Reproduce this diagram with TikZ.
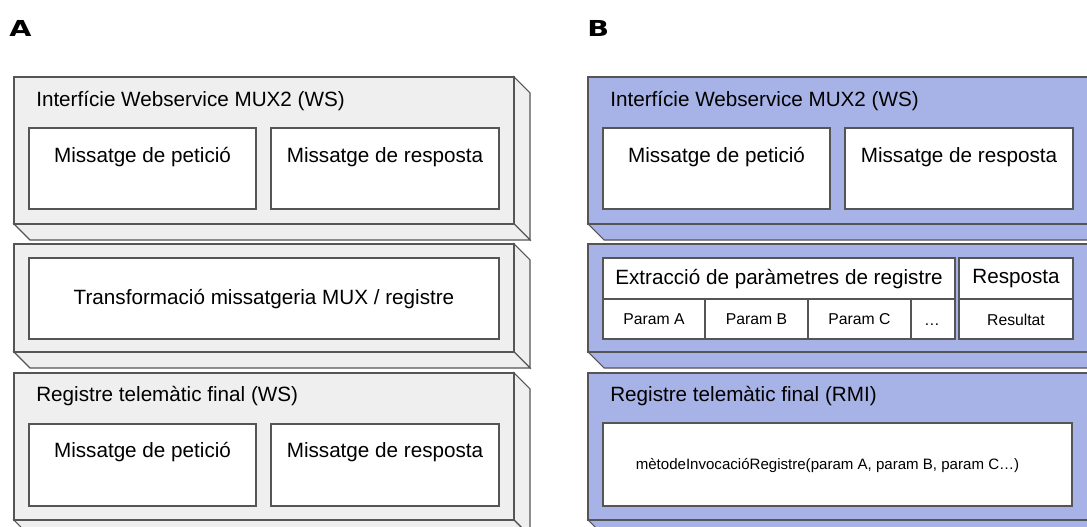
\documentclass[tikz,border=0pt]{standalone}
\usepackage{fontspec}
\setmainfont{Liberation Sans}
\newfontfamily\heavyfont{DejaVu Sans}
\usetikzlibrary{fit}
\definecolor{grayfill}{HTML}{EFEFEF}
\definecolor{bluefill}{HTML}{A7B3E6}
\definecolor{edge}{HTML}{555555}
\tikzset{
  face/.style={draw=edge, line width=0.8pt},
  ibox/.style={draw=edge, line width=0.8pt, fill=white, inner sep=0pt},
  big/.style={font=\fontsize{15.5}{18}\selectfont, inner sep=0pt},
  small/.style={font=\fontsize{11.8}{14}\selectfont, inner sep=0pt},
  tiny/.style={font=\fontsize{11.3}{14}\selectfont, inner sep=0pt},
  panel/.style={font=\heavyfont\fontsize{16.5}{18}\bfseries\selectfont, inner sep=0pt},
}
% cube: x, y, w, h, fill, name
\newcommand{\cubeshape}[6]{%
  \fill[#5] (#1,#2) rectangle ({#1+#3},{#2+#4});
  \draw[face, fill=#5] ({#1+#3},#2) -- ({#1+#3+16},{#2+16}) -- ({#1+#3+16},{#2+#4+16}) -- ({#1+#3},{#2+#4}) -- cycle;
  \draw[face, fill=#5] (#1,{#2+#4}) -- ({#1+16},{#2+#4+16}) -- ({#1+#3+16},{#2+#4+16}) -- ({#1+#3},{#2+#4}) -- cycle;
  \node[face, fill=#5, inner sep=0pt, fit={(#1,#2)({#1+#3},{#2+#4})}] (#6) {};
}
\begin{document}
\begin{tikzpicture}[x=0.75pt, y=-0.75pt]
\clip (0,0) rectangle (1087,527);
\fill[white] (0,0) rectangle (1087,527);

\node[panel, anchor=base west] (lblA) at (9,37) {\scalebox{1.3}[1]{A}};
\node[panel, anchor=base west] (lblB) at (587,37) {\scalebox{1.3}[1]{B}};

% ---------- A ----------
\cubeshape{14}{77}{500}{147}{grayfill}{A1}
\node[big, anchor=west] (A1t) at (36,101) {Interfície Webservice MUX2 (WS)};
\node[ibox, fit={(29,128)(256,209)}] (A1a) {};
\node[big] (A1at) at (142.5,157) {Missatge de petició};
\node[ibox, fit={(271,128)(499,209)}] (A1b) {};
\node[big] (A1bt) at (385,157) {Missatge de resposta};

\cubeshape{14}{244}{500}{108}{grayfill}{A2}
\node[ibox, fit={(29,258)(499,339)}] (A2a) {};
\node[big] (A2at) at (264,299) {Transformació missatgeria MUX / registre};

\cubeshape{14}{373}{500}{147}{grayfill}{A3}
\node[big, anchor=west] (A3t) at (36,396) {Registre telemàtic final (WS)};
\node[ibox, fit={(29,424)(256,506)}] (A3a) {};
\node[big] (A3at) at (142.5,452) {Missatge de petició};
\node[ibox, fit={(271,424)(499,506)}] (A3b) {};
\node[big] (A3bt) at (385,452) {Missatge de resposta};

% ---------- B ----------
\cubeshape{588}{77}{500}{147}{bluefill}{B1}
\node[big, anchor=west] (B1t) at (610,101) {Interfície Webservice MUX2 (WS)};
\node[ibox, fit={(603,128)(830,209)}] (B1a) {};
\node[big] (B1at) at (716.5,157) {Missatge de petició};
\node[ibox, fit={(845,128)(1073,209)}] (B1b) {};
\node[big] (B1bt) at (959,157) {Missatge de resposta};

\cubeshape{588}{244}{500}{108}{bluefill}{B2}
\node[ibox, fit={(603,258)(955,339)}] (B2a) {};
\draw[edge, line width=0.8pt] (603,299) -- (955,299);
\draw[edge, line width=0.8pt] (705,299) -- (705,339);
\draw[edge, line width=0.8pt] (808,299) -- (808,339);
\draw[edge, line width=0.8pt] (911,299) -- (911,339);
\node[big] (B2at) at (779,279) {Extracció de paràmetres de registre};
\node[small] (pA) at (654,319.5) {Param A};
\node[small] (pB) at (756.5,319.5) {Param B};
\node[small] (pC) at (859.5,319.5) {Param C};
\node[small, anchor=base] (pD) at (932,325) {…};
\node[ibox, fit={(959,258)(1073,339)}] (B2b) {};
\draw[edge, line width=0.8pt] (959,299) -- (1073,299);
\node[big] (B2bt) at (1016,279) {Resposta};
\node[small] (res) at (1016,319.5) {Resultat};

\cubeshape{588}{373}{500}{147}{bluefill}{B3}
\node[big, anchor=west] (B3t) at (610,396) {Registre telemàtic final (RMI)};
\node[ibox, fit={(603,423)(1072,506)}] (B3a) {};
\node[tiny] (B3at) at (827.5,466) {mètodeInvocacióRegistre(param A, param B, param C…)};
\end{tikzpicture}
\end{document}
